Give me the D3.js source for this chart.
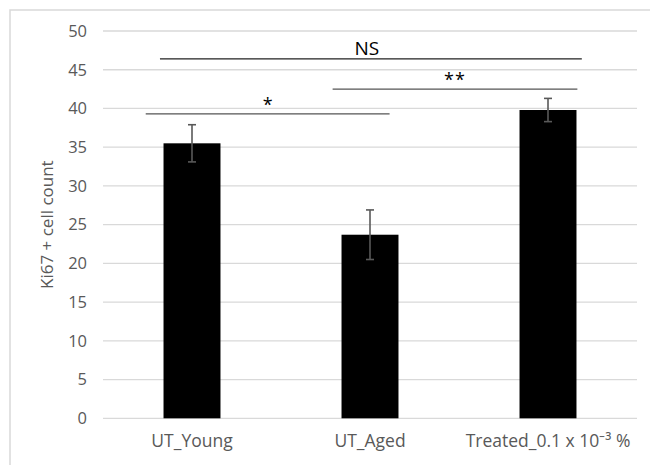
<!DOCTYPE html>
<html lang="en">
<head>
<meta charset="UTF-8">
<script src="https://d3js.org/d3.v7.min.js"></script>
<style>
  body { margin: 0; background: #fff; font-family: "Open Sans", sans-serif; }
</style>
</head>
<body>
<div id="chart"></div>
<script>
// data
const groups = ["UT_Young", "UT_Aged", "Treated_0.1 x 10\u207B\u00B3 %"];
const means = [35.5, 23.7, 39.8];
const errs = [2.4, 3.2, 1.5];
const yTicks = [0, 5, 10, 15, 20, 25, 30, 35, 40, 45, 50];

// significance brackets: from group, to group, offsets (in band steps), level, label
const sigFrom = [0, 1, 0];
const sigTo = [1, 2, 2];
const sigFromOff = [-0.26, -0.21, -0.18];
const sigToOff = [0.11, 0.165, 0.19];
const sigLevel = [39.3, 42.5, 46.4];
const sigLabel = ["*", "**", "NS"];

const W = 650, H = 465;
const svg = d3.select("#chart").append("svg")
  .attr("width", W)
  .attr("height", H);

// outer chart-area border (cut off at right and bottom)
svg.append("rect")
  .attr("x", 10).attr("y", 10)
  .attr("width", 700).attr("height", 500)
  .attr("fill", "none")
  .attr("stroke", "#d9d9d9")
  .attr("stroke-width", 1.5);

const x = d3.scaleBand()
  .domain(groups)
  .range([103, 637])
  .paddingInner(0.68)
  .paddingOuter(0.34);

const y = d3.scaleLinear()
  .domain([0, 50])
  .range([418.3, 31]);

// gridlines
svg.append("g")
  .selectAll("line")
  .data(yTicks)
  .join("line")
  .attr("x1", 103).attr("x2", 637)
  .attr("y1", d => y(d)).attr("y2", d => y(d))
  .attr("stroke", "#d9d9d9")
  .attr("stroke-width", 1.3);

// y axis labels
const yAxis = d3.axisLeft(y).tickValues(yTicks).tickSize(0).tickPadding(0);
svg.append("g")
  .attr("transform", "translate(87,0)")
  .call(yAxis)
  .call(g => g.select(".domain").remove())
  .selectAll("text")
  .attr("fill", "#595959")
  .style("font-size", "16.5px")
  .style("font-family", "Open Sans, sans-serif");

// x axis labels
const xAxis = d3.axisBottom(x).tickSize(0).tickPadding(0);
svg.append("g")
  .attr("transform", "translate(0,435)")
  .call(xAxis)
  .call(g => g.select(".domain").remove())
  .selectAll("text")
  .attr("fill", "#595959")
  .style("font-size", "17.5px")
  .style("font-family", "Open Sans, sans-serif");

// bars
svg.append("g")
  .selectAll("rect")
  .data(groups)
  .join("rect")
  .attr("x", d => x(d))
  .attr("width", x.bandwidth())
  .attr("y", (d, i) => y(means[i]))
  .attr("height", (d, i) => y(0) - y(means[i]))
  .attr("fill", "#000");

// error bars
const eb = svg.append("g")
  .attr("stroke", "#595959")
  .attr("stroke-width", 1.6);
groups.forEach((g, i) => {
  const cx = x(g) + x.bandwidth() / 2;
  const hi = y(means[i] + errs[i]), lo = y(means[i] - errs[i]);
  eb.append("line").attr("x1", cx).attr("x2", cx).attr("y1", hi).attr("y2", lo);
  eb.append("line").attr("x1", cx - 4).attr("x2", cx + 4).attr("y1", hi).attr("y2", hi);
  eb.append("line").attr("x1", cx - 4).attr("x2", cx + 4).attr("y1", lo).attr("y2", lo);
});

// significance brackets
const step = x.step();
sigLabel.forEach((lab, i) => {
  const x1 = x(groups[sigFrom[i]]) + x.bandwidth() / 2 + sigFromOff[i] * step;
  const x2 = x(groups[sigTo[i]]) + x.bandwidth() / 2 + sigToOff[i] * step;
  const yy = y(sigLevel[i]);
  svg.append("line")
    .attr("x1", x1).attr("x2", x2)
    .attr("y1", yy).attr("y2", yy)
    .attr("stroke", lab === "NS" ? "#222" : "#555")
    .attr("stroke-width", 1.4);
  svg.append("text")
    .attr("x", (x1 + x2) / 2 + (lab === "NS" ? -4 : 0))
    .attr("y", lab === "NS" ? yy - 4 : yy - 3)
    .attr("text-anchor", "middle")
    .attr("fill", "#000")
    .attr("letter-spacing", lab === "**" ? "1px" : null)
    .style("font-size", lab === "NS" ? "19px" : "18px")
    .style("font-family", "Open Sans, sans-serif")
    .text(lab);
});

// y axis title
svg.append("text")
  .attr("transform", `translate(53,${(y(0) + y(50)) / 2}) rotate(-90)`)
  .attr("text-anchor", "middle")
  .attr("fill", "#595959")
  .style("font-size", "17px")
  .style("font-family", "Open Sans, sans-serif")
  .text("Ki67 + cell count");
</script>
</body>
</html>
